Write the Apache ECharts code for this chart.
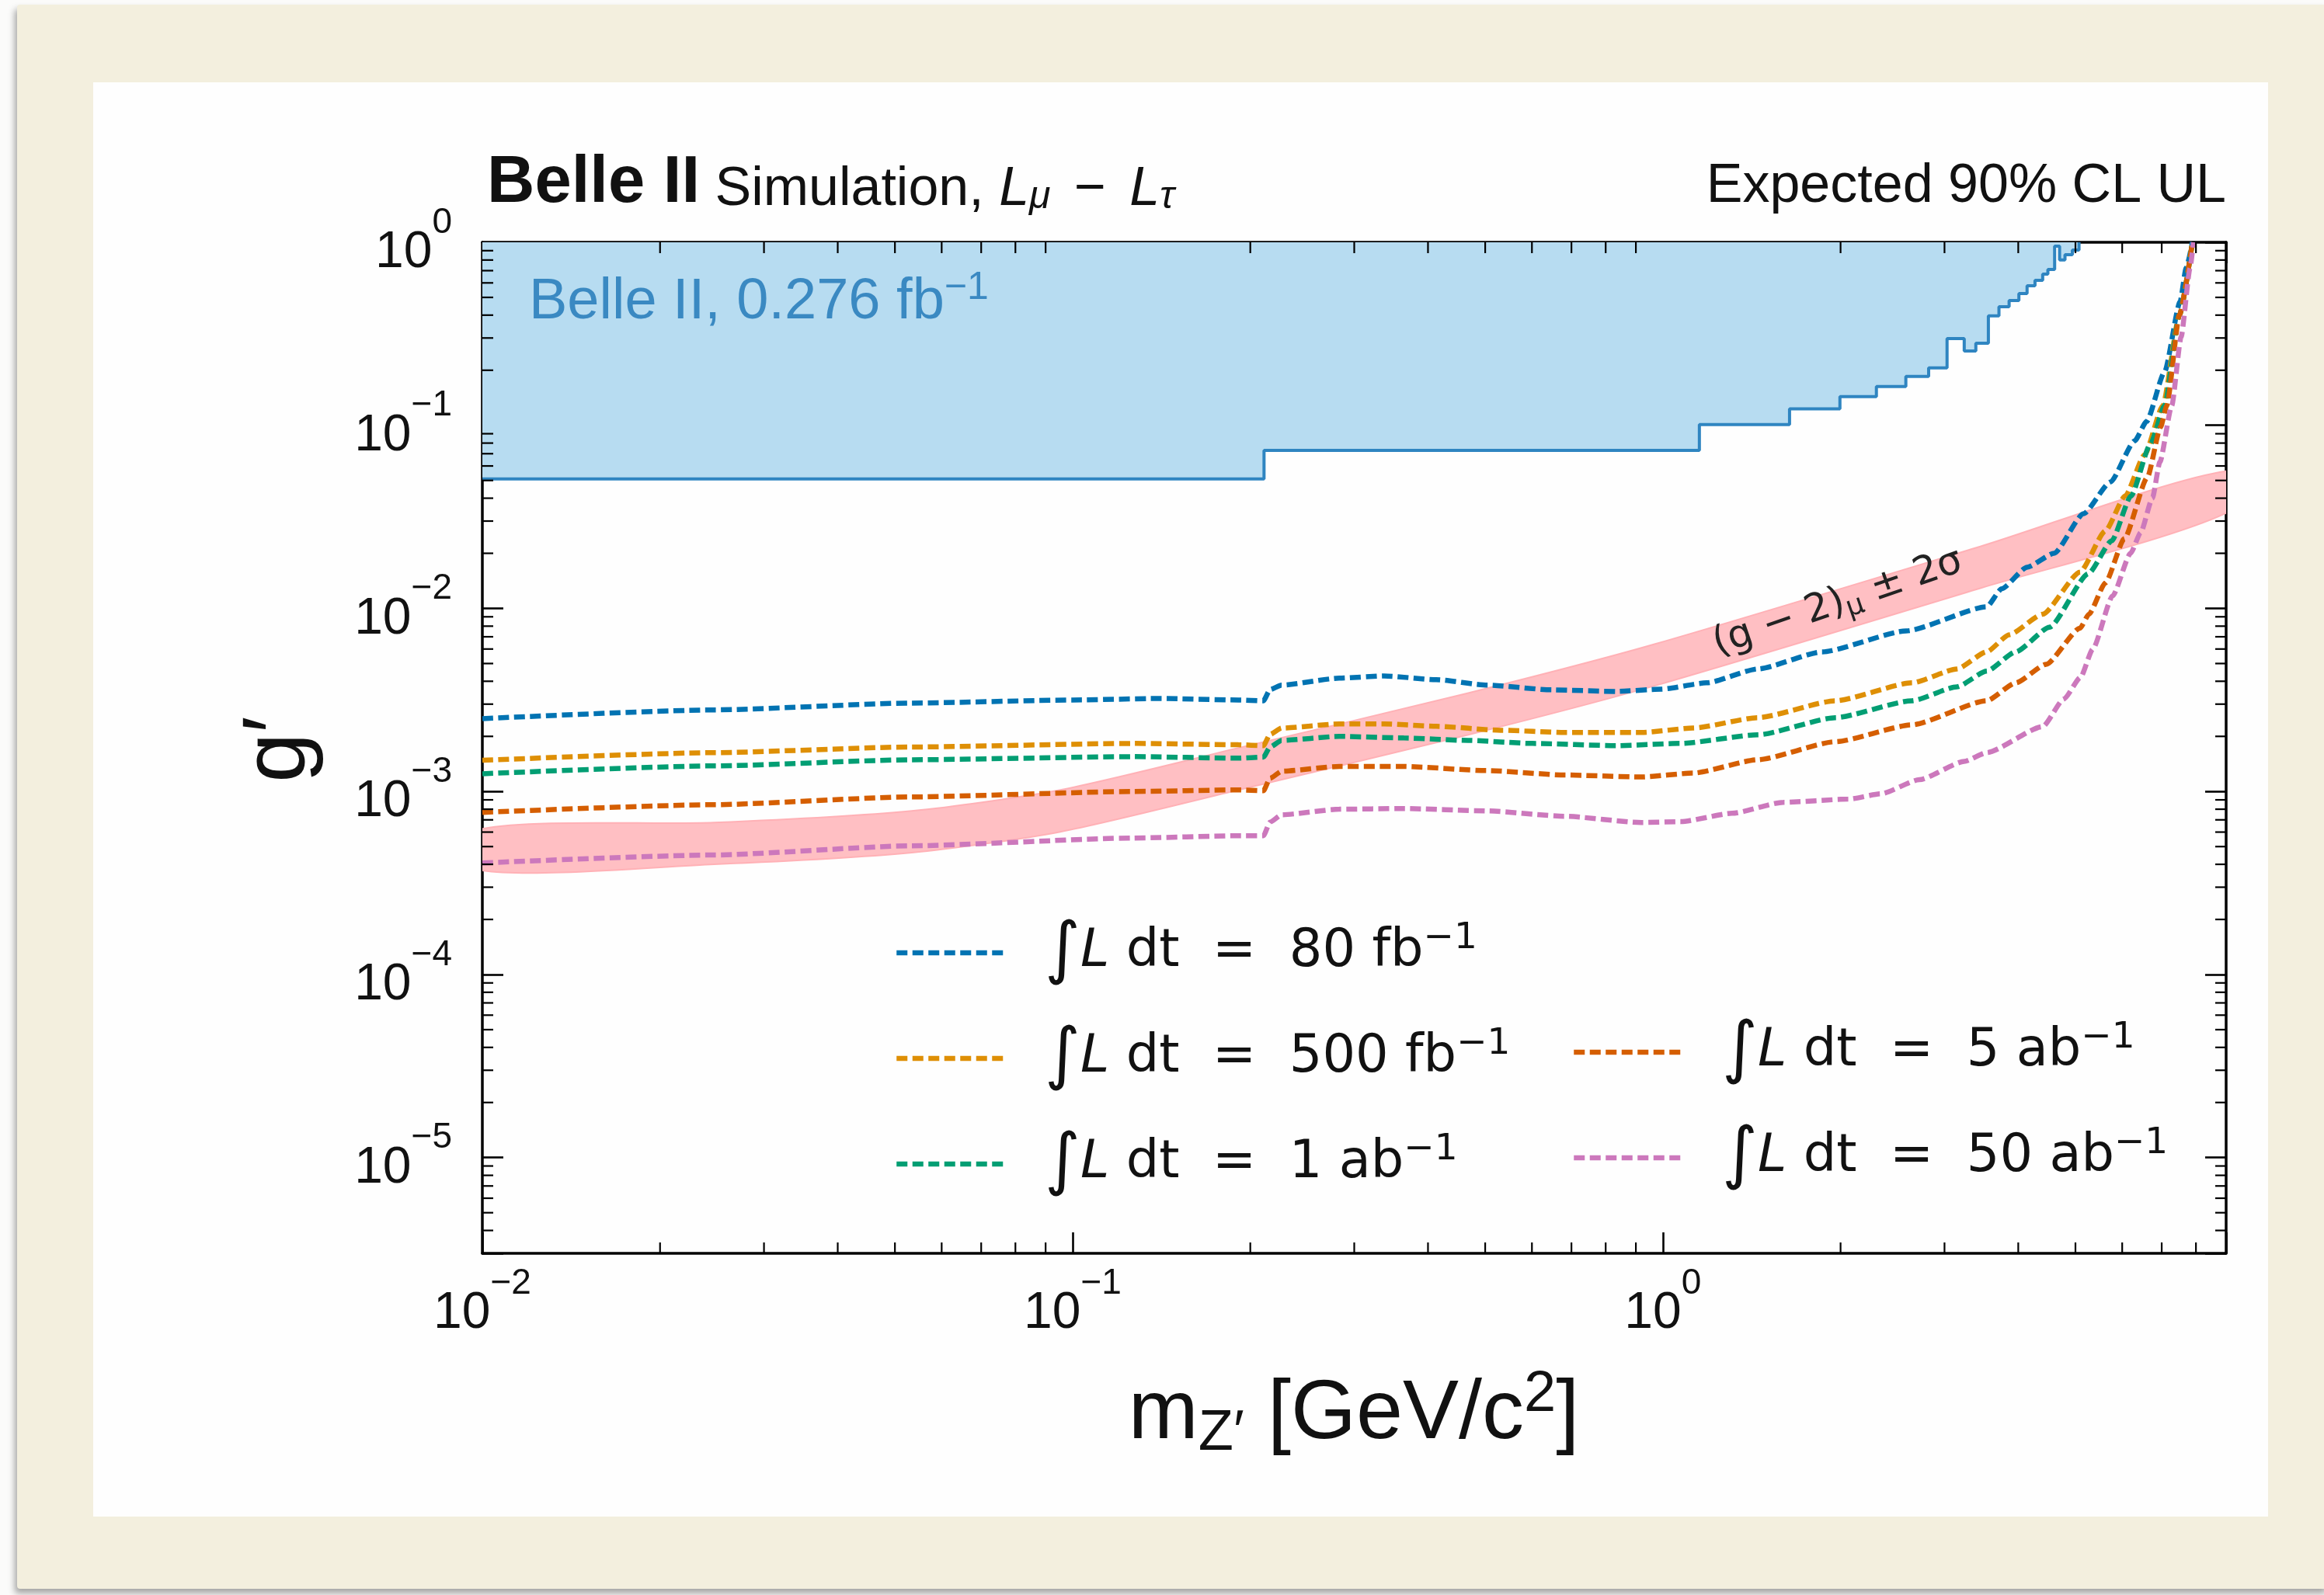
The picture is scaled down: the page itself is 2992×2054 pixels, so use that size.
<!DOCTYPE html>
<html>
<head>
<meta charset="utf-8">
<script src="https://cdn.jsdelivr.net/npm/echarts@6/dist/echarts.min.js"></script>
<style>
  html, body { margin: 0; padding: 0; width: 2992px; height: 2054px; background: #fbfbfa; overflow: hidden; }
  #paper { position: absolute; left: 22px; top: 6px; width: 2976px; height: 2040px; background: #f3efde;
           box-shadow: -3px 6px 9px rgba(0,0,0,0.35); border-radius: 4px; }
  #sheet { position: absolute; left: 120px; top: 106px; width: 2800px; height: 1847px; background: #fefefe; }
  #chart { position: absolute; left: 0; top: 0; width: 2992px; height: 2054px; }
</style>
</head>
<body>
<div id="paper"></div>
<div id="sheet"></div>
<div id="chart"></div>
<script>
// Axis ranges (GeV for the mass, dimensionless coupling g')
const X_MIN = 0.01, X_MAX = 9;
const Y_MIN = 3e-6, Y_MAX = 1;
const xTickExponents = [-2, -1, 0];
const yTickExponents = [0, -1, -2, -3, -4, -5];

// Expected 90% CL upper limits on g' vs m_Z' for each integrated luminosity
const lumi80fb = [
  [0.0100, 0.00250], [0.0247, 0.00279], [0.0534, 0.00304], [0.100, 0.00316], [0.140, 0.00322],
  [0.191, 0.00316], [0.2105, 0.00313], [0.216, 0.00360], [0.226, 0.00381], [0.283, 0.00416],
  [0.337, 0.00428], [0.413, 0.00408], [0.504, 0.00381], [0.649, 0.00359], [0.834, 0.00352],
  [0.993, 0.00362], [1.185, 0.00392], [1.448, 0.00467], [1.862, 0.00579], [2.583, 0.00753],
  [3.536, 0.0102], [3.75, 0.0128], [4.14, 0.0168], [4.60, 0.0200], [5.16, 0.0329],
  [5.73, 0.0490], [6.30, 0.0823], [6.60, 0.105], [7.08, 0.196], [7.52, 0.472], [7.70, 0.724], [7.89, 1.0]
];
const lumi500fb = [
  [0.0100, 0.00148], [0.0247, 0.00163], [0.0534, 0.00175], [0.127, 0.00183], [0.191, 0.00180],
  [0.2105, 0.00178], [0.216, 0.00205], [0.226, 0.00222], [0.283, 0.00234], [0.337, 0.00234],
  [0.413, 0.00227], [0.531, 0.00216], [0.682, 0.00210], [0.920, 0.00210], [1.125, 0.00222],
  [1.448, 0.00253], [1.96, 0.00313], [2.64, 0.00392], [3.15, 0.00467], [3.536, 0.00579],
  [3.86, 0.00718], [4.40, 0.0093], [5.09, 0.0158], [5.62, 0.0265], [6.07, 0.0411],
  [6.55, 0.069], [7.03, 0.128], [7.50, 0.400], [7.89, 1.0]
];
const lumi1ab = [
  [0.0100, 0.00125], [0.0247, 0.00138], [0.0534, 0.00149], [0.127, 0.00155], [0.191, 0.00152],
  [0.2105, 0.00154], [0.216, 0.00175], [0.226, 0.00190], [0.283, 0.00200], [0.364, 0.00196],
  [0.468, 0.00190], [0.601, 0.00183], [0.834, 0.00178], [1.072, 0.00183], [1.448, 0.00204],
  [1.96, 0.00253], [2.64, 0.00313], [3.15, 0.00373], [3.536, 0.00454], [3.96, 0.00579],
  [4.52, 0.0079], [5.26, 0.0155], [5.76, 0.0234], [6.21, 0.0411], [6.70, 0.0791],
  [7.08, 0.128], [7.50, 0.400], [7.89, 1.0]
];
const lumi5ab = [
  [0.0100, 0.000769], [0.0247, 0.000847], [0.0534, 0.000934], [0.127, 0.00100], [0.191, 0.00102],
  [0.2105, 0.00101], [0.216, 0.00118], [0.226, 0.00129], [0.283, 0.00137], [0.364, 0.00137],
  [0.504, 0.00130], [0.682, 0.00123], [0.920, 0.00120], [1.125, 0.00126], [1.448, 0.00149],
  [1.96, 0.00187], [2.64, 0.00231], [3.536, 0.00313], [3.96, 0.00392], [4.46, 0.00495],
  [5.09, 0.0078], [5.27, 0.0093], [5.62, 0.0138], [6.05, 0.0240], [6.62, 0.052],
  [6.97, 0.098], [7.14, 0.128], [7.50, 0.400], [7.89, 1.0]
];
const lumi50ab = [
  [0.0100, 0.000407], [0.0247, 0.000450], [0.0534, 0.000505], [0.127, 0.000557], [0.191, 0.000573],
  [0.2105, 0.000573], [0.216, 0.00068], [0.226, 0.000746], [0.283, 0.000800], [0.364, 0.000807],
  [0.504, 0.000783], [0.682, 0.000732], [0.920, 0.000677], [1.072, 0.000684], [1.31, 0.000760],
  [1.60, 0.000873], [2.06, 0.000908], [2.34, 0.000971], [2.72, 0.00116], [3.24, 0.00146],
  [3.536, 0.00163], [4.40, 0.00226], [4.78, 0.00320], [5.10, 0.00420], [5.35, 0.0060],
  [5.78, 0.0117], [6.20, 0.0200], [6.45, 0.0260], [6.75, 0.040], [6.95, 0.063],
  [7.28, 0.128], [7.55, 0.304], [7.82, 0.724], [7.92, 1.0]
];

// Belle II 0.276 fb^-1 observed exclusion: [left bin edge, limit]
const belle2Steps = [
  [0.01, 0.051], [0.211, 0.073], [1.153, 0.101], [1.639, 0.123], [1.995, 0.1435], [2.30, 0.163],
  [2.58, 0.185], [2.82, 0.206], [3.03, 0.298], [3.24, 0.255], [3.39, 0.281], [3.56, 0.396],
  [3.71, 0.445], [3.86, 0.481], [4.01, 0.525], [4.14, 0.579], [4.27, 0.620], [4.40, 0.670],
  [4.49, 0.711], [4.61, 0.953], [4.70, 0.800], [4.80, 0.856], [4.94, 0.907], [5.07, 1.0]
];

// (g-2)_mu favoured band, +-2 sigma
const gm2Mass  = [0.0100, 0.0247, 0.0534, 0.0953, 0.191, 0.468, 0.968, 3.45, 9.0];
const gm2Lower = [3.70e-4, 4.00e-4, 4.63e-4, 6.02e-4, 1.02e-3, 2.04e-3, 3.78e-3, 0.0129, 0.0332];
const gm2Upper = [6.25e-4, 6.76e-4, 7.83e-4, 1.02e-3, 1.73e-3, 3.45e-3, 6.38e-3, 0.0218, 0.0562];

const lumiAmounts = ['80', '500', '1', '5', '50'];
const lumiUnits = ['fb', 'fb', 'ab', 'ab', 'ab'];
const lumiData = [lumi80fb, lumi500fb, lumi1ab, lumi5ab, lumi50ab];
const lumiColors = ['#0173b2', '#de8f05', '#029e73', '#d55e00', '#cc78bc'];
const lumiNames = lumiAmounts.map((a, i) => '∫L dt = ' + a + ' ' + lumiUnits[i] + '⁻¹');

const MAJOR_LEN = 27, MINOR_LEN = 14;
const CURVE_WIDTH = 6.5;

function minorValues(lo, hi) {
  const out = [];
  for (let d = Math.floor(Math.log10(lo)); d <= Math.ceil(Math.log10(hi)); d++) {
    for (let k = 2; k <= 9; k++) {
      const v = k * Math.pow(10, d);
      if (v > lo * 1.0001 && v < hi * 0.9999) out.push(v);
    }
  }
  return out;
}

function powerLabel(exps) {
  return function (value) {
    const lg = Math.log10(value);
    const e = Math.round(lg);
    if (Math.abs(lg - e) > 1e-6 || exps.indexOf(e) < 0) return '';
    return '{b|10}{s|' + (e < 0 ? '−' + (-e) : String(e)) + '}';
  };
}

const tickRich = {
  b: { fontFamily: 'Liberation Sans', fontSize: 66, lineHeight: 124, color: '#111' },
  s: { fontFamily: 'Liberation Sans', fontSize: 46, lineHeight: 46, verticalAlign: 'top', color: '#111' }
};

function baseAxis(min, max) {
  return {
    type: 'log', logBase: 10, min: min, max: max,
    axisLine: { show: true, onZero: false, lineStyle: { color: '#000', width: 3.5 } },
    axisTick: { show: true, inside: true, length: MAJOR_LEN, lineStyle: { color: '#000', width: 2.6 } },
    splitLine: { show: false },
    minorTick: { show: false },
    minorSplitLine: { show: false }
  };
}

const xBottom = Object.assign(baseAxis(X_MIN, X_MAX), {
  position: 'bottom',
  axisLabel: { show: true, margin: 16, formatter: powerLabel(xTickExponents), rich: tickRich }
});
const xTop = Object.assign(baseAxis(X_MIN, X_MAX), { position: 'top', axisLabel: { show: false } });
const yLeft = Object.assign(baseAxis(Y_MIN, Y_MAX), {
  position: 'left',
  axisLabel: { show: true, margin: 39, padding: [28, 0, 0, 0], formatter: powerLabel(yTickExponents), rich: tickRich }
});
const yRight = Object.assign(baseAxis(Y_MIN, Y_MAX), { position: 'right', axisLabel: { show: false } });

const lineSeries = lumiData.map((d, i) => ({
  type: 'line', name: lumiNames[i], data: d, xAxisIndex: 0, yAxisIndex: 0,
  symbol: 'none', smooth: 0.2, smoothMonotone: 'x', clip: true, z: 4,
  lineStyle: { color: lumiColors[i], width: CURVE_WIDTH, type: [14, 6.5] },
  itemStyle: { color: lumiColors[i] }
}));

const bandSeries = {
  type: 'custom', name: 'gm2band', xAxisIndex: 0, yAxisIndex: 0, clip: true, z: 1, silent: true,
  data: [[gm2Mass[0], gm2Lower[0]]],
  renderItem: function (params, api) {
    const pts = [];
    for (let i = 0; i < gm2Mass.length; i++) pts.push(api.coord([gm2Mass[i], gm2Upper[i]]));
    for (let i = gm2Mass.length - 1; i >= 0; i--) pts.push(api.coord([gm2Mass[i], gm2Lower[i]]));
    return { type: 'polygon', shape: { points: pts, smooth: 0.25 },
             style: { fill: '#ffbfc3', stroke: '#ffb1b6', lineWidth: 2 } };
  }
};

const exclusionSeries = {
  type: 'line', name: 'belle2', data: belle2Steps, step: 'end', symbol: 'none', clip: true, z: 2,
  xAxisIndex: 0, yAxisIndex: 0, silent: true,
  lineStyle: { color: '#2f85c1', width: 4 },
  areaStyle: { color: '#b7dcf1', opacity: 1, origin: 'end' }
};

const xMinorSeries = {
  type: 'custom', name: 'xminor', xAxisIndex: 0, yAxisIndex: 0, z: 6, silent: true, clip: false,
  data: minorValues(X_MIN, X_MAX).map(v => [v, Y_MIN]),
  renderItem: function (params, api) {
    const b = api.coord([api.value(0), Y_MIN]);
    const t = api.coord([api.value(0), Y_MAX]);
    const st = { stroke: '#000', lineWidth: 2.2 };
    return { type: 'group', children: [
      { type: 'line', shape: { x1: b[0], y1: b[1], x2: b[0], y2: b[1] - MINOR_LEN }, style: st },
      { type: 'line', shape: { x1: t[0], y1: t[1], x2: t[0], y2: t[1] + MINOR_LEN }, style: st }
    ] };
  }
};

const yMinorSeries = {
  type: 'custom', name: 'yminor', xAxisIndex: 0, yAxisIndex: 0, z: 6, silent: true, clip: false,
  data: minorValues(Y_MIN, Y_MAX).map(v => [X_MIN, v]),
  renderItem: function (params, api) {
    const l = api.coord([X_MIN, api.value(1)]);
    const r = api.coord([X_MAX, api.value(1)]);
    const st = { stroke: '#000', lineWidth: 2.2 };
    return { type: 'group', children: [
      { type: 'line', shape: { x1: l[0], y1: l[1], x2: l[0] + MINOR_LEN, y2: l[1] }, style: st },
      { type: 'line', shape: { x1: r[0], y1: r[1], x2: r[0] - MINOR_LEN, y2: r[1] }, style: st }
    ] };
  }
};

const legendText = {
  color: '#111', fontFamily: 'DejaVu Sans', fontSize: 67, lineHeight: 84, padding: [0, 0, 0, 43],
  rich: {
    int: { fontFamily: 'DejaVu Sans', fontSize: 88, lineHeight: 84, color: '#111' },
    it: { fontFamily: 'DejaVu Sans', fontStyle: 'italic', fontSize: 67, lineHeight: 84, color: '#111' },
    sup: { fontFamily: 'DejaVu Sans', fontSize: 47, lineHeight: 44, verticalAlign: 'top', color: '#111' }
  }
};
function legendFormatter(name) {
  const i = lumiNames.indexOf(name);
  return '{int|∫}{it|L} dt  =  ' + lumiAmounts[i] + ' ' + lumiUnits[i] + '{sup|−1}';
}
const legendCommon = {
  orient: 'vertical', itemWidth: 143, itemHeight: 14, itemGap: 48,
  formatter: legendFormatter, textStyle: legendText, selectedMode: false,
  lineStyle: { width: CURVE_WIDTH },
  itemStyle: { opacity: 0, borderWidth: 0 }
};

const chart = echarts.init(document.getElementById('chart'), null, { renderer: 'canvas' });
chart.setOption({
  animation: false,
  backgroundColor: 'transparent',
  grid: { left: 621, top: 312, right: 126, bottom: 440, containLabel: false },
  xAxis: [xBottom, xTop],
  yAxis: [yLeft, yRight],
  legend: [
    Object.assign({ left: 1146, top: 1178, data: lumiNames.slice(0, 3) }, legendCommon),
    Object.assign({ left: 2018, top: 1306, data: lumiNames.slice(3) }, legendCommon)
  ],
  series: [bandSeries, exclusionSeries].concat(lineSeries, [xMinorSeries, yMinorSeries])
});

const bandLabelPos = chart.convertToPixel({ xAxisIndex: 0, yAxisIndex: 0 }, [1.98, 0.0107]);

chart.setOption({
  graphic: [
    { type: 'text', z: 10, style: {
        x: 627, y: 242, verticalAlign: 'middle', align: 'left',
        text: '{b|Belle II}{n| Simulation, }{it|L}{sub|μ}{n| }{m|−}{n| }{it|L}{sub|τ}',
        fontFamily: 'Liberation Sans', fontSize: 70, fill: '#111',
        rich: {
          b: { fontFamily: 'Liberation Sans', fontWeight: 'bold', fontSize: 85, lineHeight: 75, verticalAlign: 'bottom', fill: '#111' },
          n: { fontFamily: 'Liberation Sans', fontSize: 70, lineHeight: 74.5, verticalAlign: 'bottom', fill: '#111' },
          m: { fontFamily: 'Liberation Sans', fontSize: 70, lineHeight: 74.5, verticalAlign: 'bottom', padding: [0, 11, 0, 11], fill: '#111' },
          it: { fontFamily: 'Liberation Sans', fontStyle: 'italic', fontSize: 70, lineHeight: 74.5, verticalAlign: 'bottom', fill: '#111' },
          sub: { fontFamily: 'Liberation Sans', fontStyle: 'italic', fontSize: 50, lineHeight: 44.5, verticalAlign: 'bottom', fill: '#111' }
        } } },
    { type: 'text', z: 10, style: {
        x: 2866, y: 241, verticalAlign: 'middle', align: 'right',
        text: 'Expected 90% CL UL', fontFamily: 'Liberation Sans', fontSize: 70, fill: '#111' } },
    { type: 'text', z: 10, style: {
        x: 681, y: 390, verticalAlign: 'middle', align: 'left',
        text: '{t|Belle II, 0.276 fb}{s|−1}', fill: '#3a89c2',
        rich: {
          t: { fontFamily: 'Liberation Sans', fontSize: 74, lineHeight: 88, fill: '#3a89c2' },
          s: { fontFamily: 'Liberation Sans', fontSize: 50, lineHeight: 50, verticalAlign: 'top', fill: '#3a89c2' }
        } } },
    { type: 'text', z: 10, x: bandLabelPos[0], y: bandLabelPos[1], rotation: 19 * Math.PI / 180, style: {
        x: 0, y: 0, verticalAlign: 'middle', align: 'center',
        text: '(g − 2){sub|μ} ± 2σ', fontFamily: 'DejaVu Sans', fontSize: 50, lineHeight: 60, fill: '#222',
        rich: { sub: { fontFamily: 'DejaVu Sans', fontSize: 36, lineHeight: 36, verticalAlign: 'bottom', fill: '#222' } }
      } },
    { type: 'text', z: 10, style: {
        x: 1743, y: 1822, verticalAlign: 'middle', align: 'center',
        text: 'm{sub|Z′} [GeV/c{sup|2}]', fontFamily: 'Liberation Sans', fontSize: 108, lineHeight: 124, fill: '#111',
        rich: {
          sub: { fontFamily: 'Liberation Sans', fontSize: 74, lineHeight: 74, verticalAlign: 'bottom', fill: '#111' },
          sup: { fontFamily: 'Liberation Sans', fontSize: 74, lineHeight: 74, verticalAlign: 'top', fill: '#111' }
        } } },
    { type: 'text', z: 10, x: 360, y: 965, rotation: Math.PI / 2, style: {
        x: 0, y: 0, verticalAlign: 'middle', align: 'center',
        text: 'g′', fontFamily: 'Liberation Sans', fontSize: 115, fill: '#111' } }
  ]
});
</script>
</body>
</html>
